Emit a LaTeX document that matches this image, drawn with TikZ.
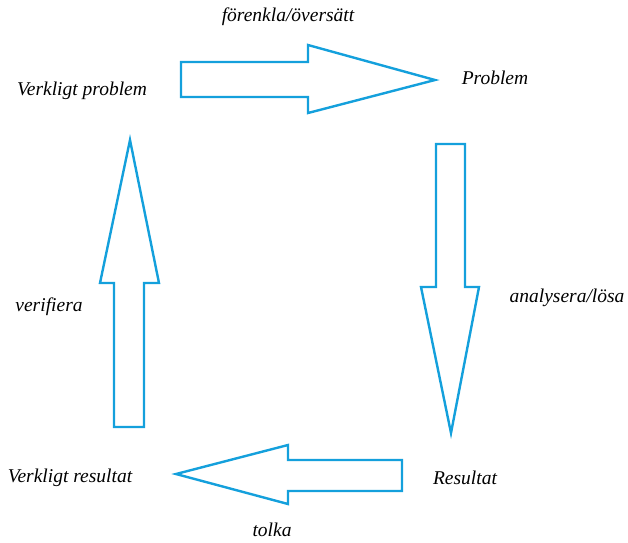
\documentclass[tikz,border=0pt]{standalone}
\usepackage{fontspec}
\setmainfont{Liberation Serif}
\definecolor{arrowblue}{RGB}{20,160,220}
\begin{document}
\begin{tikzpicture}[x=1pt,y=-1pt,
  blockarrow/.style={draw=arrowblue,line width=2.4pt,line join=miter,fill=white},
  lbl/.style={font=\fontsize{19.5}{22}\selectfont\itshape,inner sep=0pt}]
\useasboundingbox (0,0) rectangle (628,542);
% top arrow
\draw[blockarrow] (181,62) -- (308,62) -- (308,45) -- (435,80) -- (308,113) -- (308,97) -- (181,97) -- cycle;
% right down arrow
\draw[blockarrow] (436,144) -- (465,144) -- (465,287) -- (479,287) -- (451,433) -- (421,287) -- (436,287) -- cycle;
% left up arrow
\draw[blockarrow] (114,427) -- (114,283) -- (100,283) -- (130,140) -- (159,283) -- (144,283) -- (144,427) -- cycle;
% bottom arrow
\draw[blockarrow] (402,460) -- (288,460) -- (288,445) -- (176,474) -- (288,504) -- (288,491) -- (402,491) -- cycle;
% labels
\node[lbl] (forenkla) at (288,17) {förenkla/översätt};
\node[lbl] (vp) at (82,91) {Verkligt problem};
\node[lbl] (p) at (495,78) {Problem};
\node[lbl] (analysera) at (567,298) {analysera/lösa};
\node[lbl] (res) at (465,478) {Resultat};
\node[lbl] (vr) at (70,478) {Verkligt resultat};
\node[lbl] (tolka) at (272,530) {tolka};
\node[lbl] (verifiera) at (49,307) {verifiera};
\end{tikzpicture}
\end{document}
